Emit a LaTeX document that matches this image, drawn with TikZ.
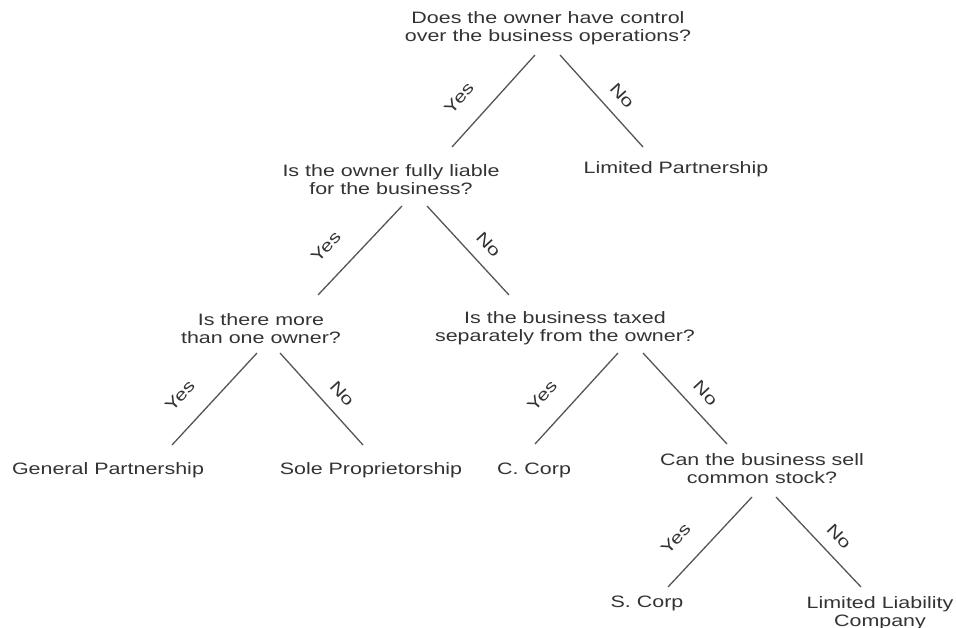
\documentclass[tikz,border=0pt]{standalone}
\usepackage{fontspec}
\setmainfont{Liberation Sans}[FakeStretch=1.3]
\definecolor{txtC}{HTML}{333333}
\definecolor{lnC}{HTML}{555555}
\tikzset{
  q/.style={align=center,inner sep=0pt,text=txtC,font=\fontsize{16.5}{18}\selectfont},
  edge/.style={draw=lnC,line width=1.3pt},
  yes/.style={sloped,pos=0.67,above=21pt,inner sep=0pt,text=txtC,font=\fontsize{16.5}{18}\selectfont},
  no/.style={sloped,pos=0.58,above=12.5pt,inner sep=0pt,text=txtC,font=\fontsize{16.5}{18}\selectfont},
}

\begin{document}
\begin{tikzpicture}[x=1pt,y=-1pt]
\useasboundingbox (0,0) rectangle (956,628);
% questions and answers
\node[q] (own)  at (548,28.5)  {Does the owner have control\\over the business operations?};
\node[q] (liab) at (391,179.5) {Is the owner fully liable\\for the business?};
\node[q] (lp)   at (676,169)   {Limited Partnership};
\node[q] (more) at (261,328.5) {Is there more\\than one owner?};
\node[q] (tax)  at (565,328.5) {Is the business taxed\\separately from the owner?};
\node[q] (gp)   at (108,470)   {General Partnership};
\node[q] (sp)   at (371,470)   {Sole Proprietorship};
\node[q] (cc)   at (534,470)   {C. Corp};
\node[q] (sell) at (762,468.5) {Can the business sell\\common stock?};
\node[q] (sc)   at (647,603)   {S. Corp};
\node[q] (llc)  at (880,613.5) {Limited Liability\\Company};
% branches
\draw[edge] ([shift={(-13,26.5)}]own.center) -- ([shift={(61,-32.5)}]liab.center) node[yes]{Yes};
\draw[edge] ([shift={(12,26.5)}]own.center) -- ([shift={(-33,-22)}]lp.center) node[no]{No};
\draw[edge] ([shift={(11,26.5)}]liab.center) -- ([shift={(57,-33.5)}]more.center) node[yes]{Yes};
\draw[edge] ([shift={(36,26.5)}]liab.center) -- ([shift={(-56,-33.5)}]tax.center) node[no]{No};
\draw[edge] ([shift={(-4,24.5)}]more.center) -- ([shift={(64,-25)}]gp.center) node[yes]{Yes};
\draw[edge] ([shift={(19,24.5)}]more.center) -- ([shift={(-8,-25)}]sp.center) node[no]{No};
\draw[edge] ([shift={(53,24.5)}]tax.center) -- ([shift={(1,-26)}]cc.center) node[yes]{Yes};
\draw[edge] ([shift={(78,24.5)}]tax.center) -- ([shift={(-35,-24.5)}]sell.center) node[no]{No};
\draw[edge] ([shift={(-10,28.5)}]sell.center) -- ([shift={(21,-16)}]sc.center) node[yes]{Yes};
\draw[edge] ([shift={(14,28.5)}]sell.center) -- ([shift={(-19,-26.5)}]llc.center) node[no]{No};
\end{tikzpicture}
\end{document}
